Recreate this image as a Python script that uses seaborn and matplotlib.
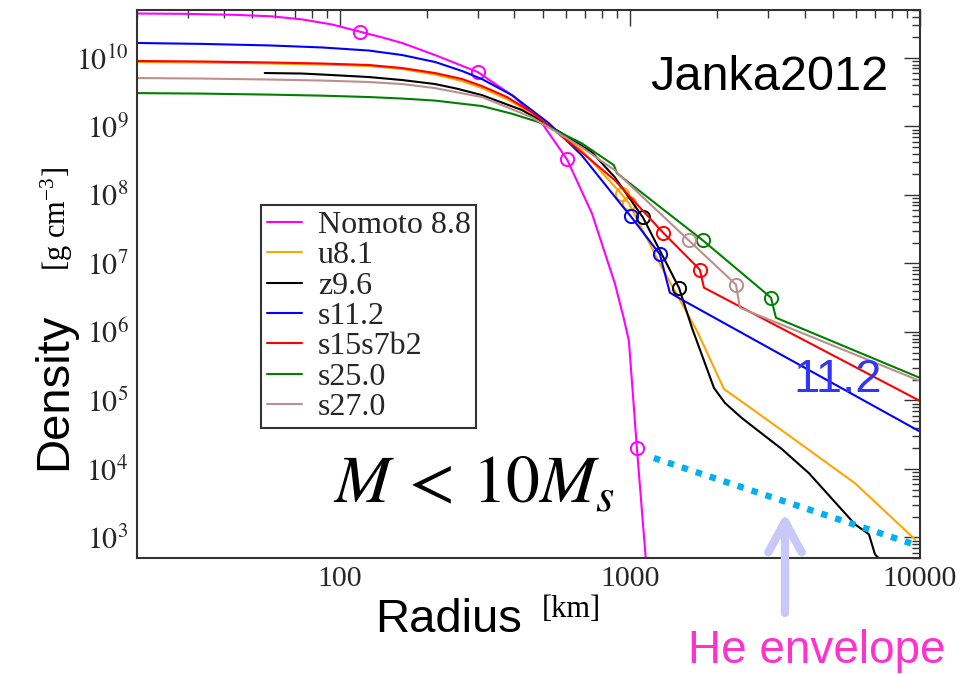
import numpy as np
import pandas as pd
import matplotlib
matplotlib.use("Agg")
import matplotlib.pyplot as plt
import matplotlib.ticker as mticker
import seaborn as sns

# ---------------- data ----------------
labels = ["Nomoto 8.8", "u8.1", "z9.6", "s11.2", "s15s7b2", "s25.0", "s27.0"]
colors = ["#FF00FF", "#FFA500", "#000000", "#0000FF", "#FF0000", "#008000", "#BC8F8F"]

nomoto_r = [20, 28.5, 43.5, 58.3, 74, 93.8, 117, 140, 164, 213, 299, 401, 498, 607, 740, 888, 953, 992,
            1024, 1057, 1135, 1164]
nomoto_rho = [4.44e10, 4.40e10, 4.25e10, 4.04e10, 3.65e10, 3.08e10, 2.42e10, 1.99e10, 1.65e10, 1.10e10,
              6.21e9, 2.67e9, 1.11e9, 3.31e8, 5.36e7, 5.06e6, 1.56e6, 7.41e5, 1.24e5, 2.01e4, 476, 116]
nomoto_mr = [117, 299, 607, 1057]
nomoto_mrho = [2.42e10, 6.21e9, 3.31e8, 2.01e4]

u81_r = [20, 33.4, 56.9, 86.7, 126, 164, 213, 264, 309, 377, 459, 682, 938, 992, 1289, 1702, 2109, 3015,
         5970, 9610]
u81_rho = [8.71e9, 8.57e9, 8.28e9, 8.0e9, 7.6e9, 6.88e9, 5.71e9, 4.59e9, 3.62e9, 2.50e9, 1.56e9, 4.48e8,
           1.02e8, 7.51e7, 8.68e6, 1.04e6, 1.47e5, 4.99e4, 6.17e3, 935]
u81_mr = [938, 992]
u81_mrho = [1.02e8, 7.51e7]

z96_r = [55.1, 74, 93.8, 126, 164, 213, 253, 309, 425, 583, 740, 888, 1109, 1476, 1636, 1949, 2127, 2432,
         3343, 4141, 5970, 6668, 6996, 7694]
z96_rho = [6.01e9, 5.91e9, 5.62e9, 5.25e9, 4.75e9, 4.15e9, 3.56e9, 2.86e9, 1.73e9, 7.94e8, 4.19e8, 1.80e8,
           4.69e7, 4.42e6, 1.15e6, 1.52e5, 9.16e4, 5.52e4, 1.94e4, 8.65e3, 1.55e3, 1.11e3, 564, 376]
z96_mr = [1109, 1476]
z96_mrho = [4.69e7, 4.42e6]

s112_r = [20, 33.4, 56.9, 86.7, 126, 164, 213, 264, 309, 392, 526, 682, 938, 1008, 1269, 1373, 1511, 9930]
s112_rho = [1.65e10, 1.60e10, 1.52e10, 1.42e10, 1.28e10, 1.10e10, 8.71e9, 6.43e9, 4.91e9, 2.86e9, 1.11e9,
            3.79e8, 7.02e7, 4.84e7, 1.35e7, 3.74e6, 2.95e6, 3.56e4]
s112_mr = [1008, 1269]
s112_mrho = [4.84e7, 1.35e7]

s15_r = [20, 33.4, 56.9, 86.7, 126, 164, 213, 264, 309, 377, 459, 682, 888, 1300, 1742, 1800, 10000]
s15_rho = [9.01e9, 8.85e9, 8.57e9, 8.28e9, 7.87e9, 7.11e9, 6.01e9, 4.91e9, 3.88e9, 2.68e9, 1.61e9, 4.19e8,
           1.63e8, 2.82e7, 8.11e6, 4.42e6, 9.8e4]
s15_mr = [1300, 1742]
s15_mrho = [2.82e7, 8.11e6]

s25_r = [20, 33.4, 56.9, 86.7, 126, 164, 213, 309, 392, 486, 682, 881, 902, 1786, 3064, 3187, 10000]
s25_rho = [3.06e9, 3.01e9, 2.91e9, 2.81e9, 2.68e9, 2.55e9, 2.38e9, 1.98e9, 1.53e9, 1.15e9, 5.68e8, 2.71e8,
           2.07e8, 2.16e7, 3.16e6, 1.61e6, 2.13e5]
s25_mr = [1786, 3064]
s25_mrho = [2.16e7, 3.16e6]

s27_r = [20, 33.4, 56.9, 86.7, 126, 164, 213, 309, 459, 682, 888, 938, 1597, 2321, 2395, 10000]
s27_rho = [5.08e9, 4.99e9, 4.83e9, 4.67e9, 4.44e9, 4.15e9, 3.62e9, 2.68e9, 1.36e9, 4.96e8, 2.28e8, 1.80e8,
           2.16e7, 4.90e6, 2.25e6, 1.92e5]
s27_mr = [1597, 2321]
s27_mrho = [2.16e7, 4.90e6]

he_r = [1210, 9530]
he_rho = [1.44e4, 790]

xticks = [100, 1000, 10000]
xticklabels = ["100", "1000", "10000"]
yticks = [1e3, 1e4, 1e5, 1e6, 1e7, 1e8, 1e9, 1e10]
yticklabels = [r"$10^{3}$", r"$10^{4}$", r"$10^{5}$", r"$10^{6}$", r"$10^{7}$", r"$10^{8}$",
               r"$10^{9}$", r"$10^{10}$"]

curves = [(nomoto_r, nomoto_rho, nomoto_mr, nomoto_mrho),
          (u81_r, u81_rho, u81_mr, u81_mrho),
          (z96_r, z96_rho, z96_mr, z96_mrho),
          (s112_r, s112_rho, s112_mr, s112_mrho),
          (s15_r, s15_rho, s15_mr, s15_mrho),
          (s25_r, s25_rho, s25_mr, s25_mrho),
          (s27_r, s27_rho, s27_mr, s27_mrho)]

# ---------------- style ----------------
sns.set_theme(style="white")
plt.rcParams["font.family"] = ["Liberation Sans", "DejaVu Sans"]
plt.rcParams["mathtext.fontset"] = "stix"

fig = plt.figure(figsize=(9.64, 6.74), dpi=100)
ax = fig.add_axes([137 / 964, 1 - 558 / 674, (920 - 137) / 964, (558 - 10) / 674])

for (r, rho, mr, mrho), lab, col in zip(curves, labels, colors):
    df = pd.DataFrame({"r": r, "rho": rho})
    sns.lineplot(data=df, x="r", y="rho", sort=False, estimator=None, color=col,
                 lw=1.5, label=lab, ax=ax)
    ax.plot(mr, mrho, linestyle="none", marker="o", ms=9.5, mfc="none", mec=col, mew=1.4)

# He envelope dotted line
ax.plot(he_r, he_rho, color="#00B0F0", lw=4.6, linestyle=(0, (1.0, 1.3)), dash_capstyle="butt")

ax.set_xscale("log")
ax.set_yscale("log")
ax.set_xlim(20, 10000)
ax.set_ylim(500, 5e10)
ax.xaxis.label.set_visible(False)
ax.yaxis.label.set_visible(False)

ax.xaxis.set_major_locator(mticker.FixedLocator(xticks))
ax.xaxis.set_major_formatter(mticker.FixedFormatter(xticklabels))
ax.xaxis.set_minor_locator(mticker.LogLocator(base=10, subs=np.arange(2, 10), numticks=100))
ax.xaxis.set_minor_formatter(mticker.NullFormatter())
ax.yaxis.set_major_locator(mticker.FixedLocator(yticks))
ax.yaxis.set_major_formatter(mticker.FixedFormatter(yticklabels))
ax.yaxis.set_minor_locator(mticker.LogLocator(base=10, subs=np.arange(2, 10), numticks=100))
ax.yaxis.set_minor_formatter(mticker.NullFormatter())

ax.tick_params(which="both", direction="in", top=True, right=True, color="#333333", width=1.0)
ax.tick_params(which="major", length=11.5, labelsize=21.5, pad=6)
ax.tick_params(which="minor", length=5.5)
for t in ax.get_xticklabels():
    t.set_fontfamily("Liberation Serif")
for sp in ax.spines.values():
    sp.set_color("#333333")
    sp.set_linewidth(1.5)

leg = ax.legend(loc="upper left", bbox_to_anchor=(261 / 964, 1 - 205 / 674),
                bbox_transform=fig.transFigure, borderaxespad=0, frameon=True,
                fancybox=False, framealpha=1, edgecolor="#333333",
                prop={"family": "Liberation Serif", "size": 23},
                handlelength=1.1, handletextpad=0.5, labelspacing=0.03, borderpad=0.18)
leg.get_frame().set_linewidth(1.5)

# ---------------- texts ----------------
fig.text(54 / 964, 1 - 391 / 674, "Density", rotation=90, ha="center", va="center", fontsize=34,
         color="black")
fig.text(57 / 964, 1 - 219 / 674, r"[g cm$^{\mathregular{-3}}$]", rotation=90, ha="center", va="center",
         fontsize=22, family="Liberation Serif", color="black")
fig.text(375 / 964, 1 - 632 / 674, "Radius", ha="left", va="baseline", fontsize=34, color="black")
fig.text(542 / 964, 1 - 617 / 674, "[km]", ha="left", va="baseline", fontsize=22,
         family="Liberation Serif", color="black")
fig.text(650 / 964, 1 - 90 / 674, "Janka2012", ha="left", va="baseline", fontsize=35, color="black")
fig.text(333 / 964, 1 - 502 / 674, r"$M\,<\,10M_s$", ha="left", va="baseline", fontsize=48.5,
         color="black")
fig.text(793 / 964, 1 - 392 / 674, "11.2", ha="left", va="baseline", fontsize=34, color="#3535F5")
fig.text(817 / 964, 1 - 663 / 674, "He envelope", ha="center", va="baseline", fontsize=33, color="#FF33CC")

ax.annotate("", xy=(785 / 964, 1 - 513 / 674), xytext=(785 / 964, 1 - 613 / 674),
            xycoords="figure fraction", textcoords="figure fraction",
            arrowprops=dict(arrowstyle="->, head_length=1.1, head_width=0.6", color="#C8C8FA",
                            lw=6, mutation_scale=20, capstyle="round", shrinkA=0, shrinkB=0))

fig.savefig("out.png", dpi=100)
